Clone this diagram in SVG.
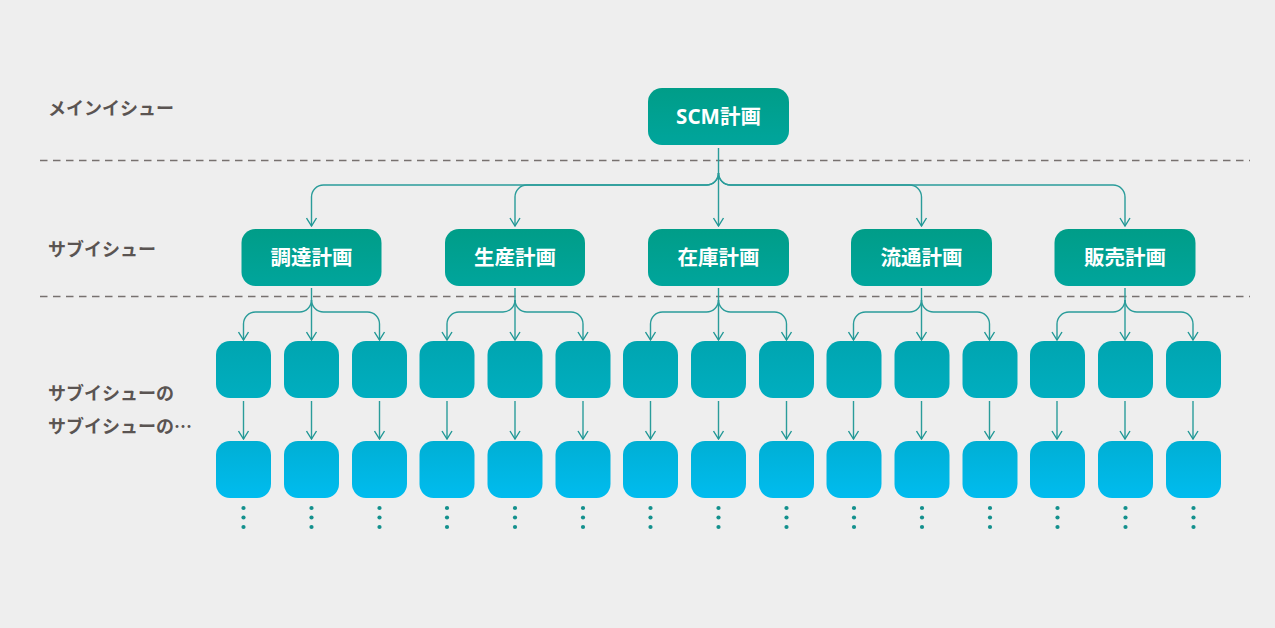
<svg xmlns="http://www.w3.org/2000/svg" width="1275" height="628" viewBox="0 0 1275 628">
<defs>
<linearGradient id="gMain" x1="0" y1="0" x2="0" y2="1"><stop offset="0" stop-color="#009d88"/><stop offset="1" stop-color="#00a59c"/></linearGradient>
<linearGradient id="gRow1" x1="0" y1="0" x2="0" y2="1"><stop offset="0" stop-color="#00a5b0"/><stop offset="1" stop-color="#00aec0"/></linearGradient>
<linearGradient id="gRow2" x1="0" y1="0" x2="0" y2="1"><stop offset="0" stop-color="#00afd4"/><stop offset="1" stop-color="#00bcef"/></linearGradient>
<marker id="arr" markerUnits="userSpaceOnUse" viewBox="0 0 10 12" refX="9" refY="6" markerWidth="10" markerHeight="12" orient="auto">
<path d="M1,1 L9,6 L1,11" fill="none" stroke="#1f9795" stroke-width="1.4"/>
</marker>
</defs>
<style>
.lbl{font-family:"Noto Sans CJK JP","Noto Sans",sans-serif;font-weight:bold;font-size:18px;fill:#5a5452}
.nt{font-family:"Noto Sans","Noto Sans CJK JP",sans-serif;font-weight:bold;font-size:20.5px;fill:#ffffff;text-anchor:middle}
.main{fill:url(#gMain)}
.r1{fill:url(#gRow1)}
.r2{fill:url(#gRow2)}
.dash{stroke:#77716f;stroke-width:1.3;stroke-dasharray:7.5 5.5;fill:none}
.ca{fill:none;stroke:#2a9c9a;stroke-width:1.4;marker-end:url(#arr)}
.dot{fill:#13908d}
</style>
<rect width="1275" height="628" fill="#eeeeee"/>

<g id="labels">
<text class="lbl" x="48" y="115">メインイシュー</text>
<text class="lbl" x="48" y="256">サブイシュー</text>
<text class="lbl" x="48" y="400">サブイシューの</text>
<text class="lbl" x="48" y="433">サブイシューの…</text>
</g>

<g id="separators">
<line class="dash" x1="40" y1="160.5" x2="1250" y2="160.5"/>
<line class="dash" x1="40" y1="296.5" x2="1250" y2="296.5"/>
</g>

<g id="connectors">
<path class="ca" d="M718.5,148 V226"/>
<path class="ca" d="M718.5,173 A12,12 0 0 1 706.5,185 H323.5 A12,12 0 0 0 311.5,197 V226"/>
<path class="ca" d="M718.5,173 A12,12 0 0 1 706.5,185 H527 A12,12 0 0 0 515,197 V226"/>
<path class="ca" d="M718.5,173 A12,12 0 0 0 730.5,185 H909.5 A12,12 0 0 1 921.5,197 V226"/>
<path class="ca" d="M718.5,173 A12,12 0 0 0 730.5,185 H1113 A12,12 0 0 1 1125,197 V226"/>

<path class="ca" d="M311.5,288 V340"/>
<path class="ca" d="M311.5,300 A12,12 0 0 1 299.5,312 H255.5 A12,12 0 0 0 243.5,324 V340"/>
<path class="ca" d="M311.5,300 A12,12 0 0 0 323.5,312 H367.5 A12,12 0 0 1 379.5,324 V340"/>
<path class="ca" d="M515,288 V340"/>
<path class="ca" d="M515,300 A12,12 0 0 1 503,312 H459 A12,12 0 0 0 447,324 V340"/>
<path class="ca" d="M515,300 A12,12 0 0 0 527,312 H571 A12,12 0 0 1 583,324 V340"/>
<path class="ca" d="M718.5,288 V340"/>
<path class="ca" d="M718.5,300 A12,12 0 0 1 706.5,312 H662.5 A12,12 0 0 0 650.5,324 V340"/>
<path class="ca" d="M718.5,300 A12,12 0 0 0 730.5,312 H774.5 A12,12 0 0 1 786.5,324 V340"/>
<path class="ca" d="M921.5,288 V340"/>
<path class="ca" d="M921.5,300 A12,12 0 0 1 909.5,312 H865.5 A12,12 0 0 0 853.5,324 V340"/>
<path class="ca" d="M921.5,300 A12,12 0 0 0 933.5,312 H977.5 A12,12 0 0 1 989.5,324 V340"/>
<path class="ca" d="M1125,288 V340"/>
<path class="ca" d="M1125,300 A12,12 0 0 1 1113,312 H1069 A12,12 0 0 0 1057,324 V340"/>
<path class="ca" d="M1125,300 A12,12 0 0 0 1137,312 H1181 A12,12 0 0 1 1193,324 V340"/>

<path class="ca" d="M243.5,401 V439"/>
<path class="ca" d="M311.5,401 V439"/>
<path class="ca" d="M379.5,401 V439"/>
<path class="ca" d="M447,401 V439"/>
<path class="ca" d="M515,401 V439"/>
<path class="ca" d="M583,401 V439"/>
<path class="ca" d="M650.5,401 V439"/>
<path class="ca" d="M718.5,401 V439"/>
<path class="ca" d="M786.5,401 V439"/>
<path class="ca" d="M853.5,401 V439"/>
<path class="ca" d="M921.5,401 V439"/>
<path class="ca" d="M989.5,401 V439"/>
<path class="ca" d="M1057,401 V439"/>
<path class="ca" d="M1125,401 V439"/>
<path class="ca" d="M1193,401 V439"/>
</g>

<g id="scm"><rect class="main" x="648" y="88" width="141" height="57" rx="14"/><text class="nt" x="718.5" y="124">SCM計画</text></g>
<g id="chotatsu"><rect class="main" x="241.5" y="229" width="140" height="57" rx="14"/><text class="nt" x="311.5" y="265">調達計画</text></g>
<g id="seisan"><rect class="main" x="445" y="229" width="140" height="57" rx="14"/><text class="nt" x="515" y="265">生産計画</text></g>
<g id="zaiko"><rect class="main" x="648" y="229" width="141" height="57" rx="14"/><text class="nt" x="718.5" y="265">在庫計画</text></g>
<g id="ryutsu"><rect class="main" x="851" y="229" width="141" height="57" rx="14"/><text class="nt" x="921.5" y="265">流通計画</text></g>
<g id="hanbai"><rect class="main" x="1054.5" y="229" width="141" height="57" rx="14"/><text class="nt" x="1125" y="265">販売計画</text></g>

<g id="row1">
<rect class="r1" x="216" y="341" width="55" height="57" rx="14"/>
<rect class="r1" x="284" y="341" width="55" height="57" rx="14"/>
<rect class="r1" x="352" y="341" width="55" height="57" rx="14"/>
<rect class="r1" x="419.5" y="341" width="55" height="57" rx="14"/>
<rect class="r1" x="487.5" y="341" width="55" height="57" rx="14"/>
<rect class="r1" x="555.5" y="341" width="55" height="57" rx="14"/>
<rect class="r1" x="623" y="341" width="55" height="57" rx="14"/>
<rect class="r1" x="691" y="341" width="55" height="57" rx="14"/>
<rect class="r1" x="759" y="341" width="55" height="57" rx="14"/>
<rect class="r1" x="826.5" y="341" width="55" height="57" rx="14"/>
<rect class="r1" x="894.5" y="341" width="55" height="57" rx="14"/>
<rect class="r1" x="962.5" y="341" width="55" height="57" rx="14"/>
<rect class="r1" x="1030" y="341" width="55" height="57" rx="14"/>
<rect class="r1" x="1098" y="341" width="55" height="57" rx="14"/>
<rect class="r1" x="1166" y="341" width="55" height="57" rx="14"/>
</g>

<g id="row2">
<rect class="r2" x="216" y="441" width="55" height="57" rx="14"/>
<rect class="r2" x="284" y="441" width="55" height="57" rx="14"/>
<rect class="r2" x="352" y="441" width="55" height="57" rx="14"/>
<rect class="r2" x="419.5" y="441" width="55" height="57" rx="14"/>
<rect class="r2" x="487.5" y="441" width="55" height="57" rx="14"/>
<rect class="r2" x="555.5" y="441" width="55" height="57" rx="14"/>
<rect class="r2" x="623" y="441" width="55" height="57" rx="14"/>
<rect class="r2" x="691" y="441" width="55" height="57" rx="14"/>
<rect class="r2" x="759" y="441" width="55" height="57" rx="14"/>
<rect class="r2" x="826.5" y="441" width="55" height="57" rx="14"/>
<rect class="r2" x="894.5" y="441" width="55" height="57" rx="14"/>
<rect class="r2" x="962.5" y="441" width="55" height="57" rx="14"/>
<rect class="r2" x="1030" y="441" width="55" height="57" rx="14"/>
<rect class="r2" x="1098" y="441" width="55" height="57" rx="14"/>
<rect class="r2" x="1166" y="441" width="55" height="57" rx="14"/>
</g>

<g id="dots">
<circle class="dot" cx="243.5" cy="508" r="2.1"/><circle class="dot" cx="243.5" cy="517.5" r="2.1"/><circle class="dot" cx="243.5" cy="527" r="2.1"/>
<circle class="dot" cx="311.5" cy="508" r="2.1"/><circle class="dot" cx="311.5" cy="517.5" r="2.1"/><circle class="dot" cx="311.5" cy="527" r="2.1"/>
<circle class="dot" cx="379.5" cy="508" r="2.1"/><circle class="dot" cx="379.5" cy="517.5" r="2.1"/><circle class="dot" cx="379.5" cy="527" r="2.1"/>
<circle class="dot" cx="447" cy="508" r="2.1"/><circle class="dot" cx="447" cy="517.5" r="2.1"/><circle class="dot" cx="447" cy="527" r="2.1"/>
<circle class="dot" cx="515" cy="508" r="2.1"/><circle class="dot" cx="515" cy="517.5" r="2.1"/><circle class="dot" cx="515" cy="527" r="2.1"/>
<circle class="dot" cx="583" cy="508" r="2.1"/><circle class="dot" cx="583" cy="517.5" r="2.1"/><circle class="dot" cx="583" cy="527" r="2.1"/>
<circle class="dot" cx="650.5" cy="508" r="2.1"/><circle class="dot" cx="650.5" cy="517.5" r="2.1"/><circle class="dot" cx="650.5" cy="527" r="2.1"/>
<circle class="dot" cx="718.5" cy="508" r="2.1"/><circle class="dot" cx="718.5" cy="517.5" r="2.1"/><circle class="dot" cx="718.5" cy="527" r="2.1"/>
<circle class="dot" cx="786.5" cy="508" r="2.1"/><circle class="dot" cx="786.5" cy="517.5" r="2.1"/><circle class="dot" cx="786.5" cy="527" r="2.1"/>
<circle class="dot" cx="854" cy="508" r="2.1"/><circle class="dot" cx="854" cy="517.5" r="2.1"/><circle class="dot" cx="854" cy="527" r="2.1"/>
<circle class="dot" cx="922" cy="508" r="2.1"/><circle class="dot" cx="922" cy="517.5" r="2.1"/><circle class="dot" cx="922" cy="527" r="2.1"/>
<circle class="dot" cx="990" cy="508" r="2.1"/><circle class="dot" cx="990" cy="517.5" r="2.1"/><circle class="dot" cx="990" cy="527" r="2.1"/>
<circle class="dot" cx="1057.5" cy="508" r="2.1"/><circle class="dot" cx="1057.5" cy="517.5" r="2.1"/><circle class="dot" cx="1057.5" cy="527" r="2.1"/>
<circle class="dot" cx="1125.5" cy="508" r="2.1"/><circle class="dot" cx="1125.5" cy="517.5" r="2.1"/><circle class="dot" cx="1125.5" cy="527" r="2.1"/>
<circle class="dot" cx="1193.5" cy="508" r="2.1"/><circle class="dot" cx="1193.5" cy="517.5" r="2.1"/><circle class="dot" cx="1193.5" cy="527" r="2.1"/>
</g>
</svg>
